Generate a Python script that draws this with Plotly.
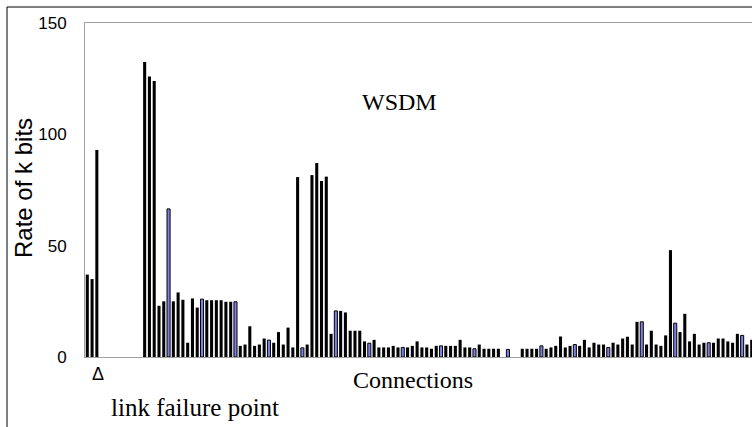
import plotly.graph_objects as go

# Per-connection transfer rate (k bits); None = no traffic on that connection
connections = list(range(1, 141))
rates = [
    37, 35, 93, None, None, None, None, None, None, None, None, None,
    132.5, 126, 124, 23, 25, 66.5, 25, 29, 25.7, 6.4, 26.3, 22.2,
    26, 25.5, 25.5, 25.5, 25.5, 24.8, 24.8, 24.8, 5.0, 5.6, 13.8, 5.0,
    5.6, 8.3, 7.6, 6.4, 11.2, 5.6, 13.2, 4.3, 80.8, 4.1, 5.6, 81.7,
    87.1, 79.0, 81.0, 10.4, 20.7, 20.7, 20.0, 11.8, 11.8, 11.8, 7.0, 6.2,
    7.7, 4.3, 4.3, 4.3, 5.0, 4.3, 4.3, 4.3, 5.0, 7.0, 4.3, 4.3,
    3.7, 5.0, 5.0, 5.0, 5.0, 5.0, 7.7, 4.3, 4.3, 3.7, 5.6, 3.7,
    3.7, 3.7, 3.7, None, 3.4, None, None, 3.7, 3.7, 3.7, 3.7, 5.0,
    3.7, 4.3, 5.0, 9.2, 4.3, 5.0, 5.6, 5.0, 7.7, 4.3, 6.4, 5.6,
    5.6, 4.3, 6.4, 5.6, 8.3, 9.1, 5.6, 15.8, 15.8, 5.6, 11.8, 5.6,
    5.0, 9.7, 48.0, 15.2, 11.2, 19.4, 7.0, 10.4, 5.6, 6.4, 6.4, 6.4,
    8.3, 8.3, 7.0, 6.4, 10.4, 9.7, 5.6, 7.7,
]
# Connections highlighted in blue
highlighted = [18, 25, 32, 39, 46, 53, 60, 67, 75, 82, 89, 96, 103, 110, 117, 124, 131, 138]

y_ticks = [0, 50, 100, 150]

BLACK = "#000000"
BLUE = "#8080e6"

colors = [BLUE if c in highlighted else BLACK for c in connections]
line_w = [1 if c in highlighted else 0 for c in connections]

fig = go.Figure(
    go.Bar(
        x=connections,
        y=rates,
        marker=dict(color=colors, line=dict(color=BLACK, width=line_w)),
    )
)

W, H = 752, 427
L, R, T, B = 85, 0, 23, 70
pw, ph = W - L - R, H - T - B


def px(x):
    return (x - L) / pw


def py(y):
    return (H - B - y) / ph


SANS = "Liberation Sans"
SERIF = "Liberation Serif"


def label(text, x, y, size, family, angle=0):
    return dict(text=text, xref="paper", yref="paper", x=px(x), y=py(y),
                xanchor="center", yanchor="middle", textangle=angle,
                showarrow=False, font=dict(size=size, family=family))


fig.update_layout(
    width=W,
    height=H,
    margin=dict(l=L, r=R, t=T, b=B),
    paper_bgcolor="white",
    plot_bgcolor="white",
    bargap=0.36,
    showlegend=False,
    font=dict(family=SANS, color="#000000"),
    xaxis=dict(
        range=[0.52, 140.06],
        showticklabels=False,
        ticks="",
        showgrid=False,
        zeroline=False,
        showline=True,
        mirror=True,
        linecolor="#a0a0a0",
        linewidth=1,
    ),
    yaxis=dict(
        range=[0, 150],
        tickvals=y_ticks,
        ticktext=[str(v) for v in y_ticks],
        tickfont=dict(size=17, family=SANS),
        ticks="",
        ticklabelstandoff=14,
        showgrid=False,
        zeroline=False,
        showline=True,
        linecolor="#a0a0a0",
        linewidth=1,
    ),
    shapes=[
        dict(
            type="rect", xref="paper", yref="paper",
            x0=px(7), x1=px(800), y0=py(470), y1=py(7),
            line=dict(color="#000000", width=1), fillcolor="rgba(0,0,0,0)",
            layer="below",
        )
    ],
    annotations=[
        label("Rate of k bits", 24, 188, 24, SANS, angle=-90),
        label("WSDM", 399, 102, 24, SERIF),
        label("Connections", 413, 380, 24, SERIF),
        label("Δ", 98, 374, 18, SANS),
        label("link failure point", 195, 407, 25, SERIF),
    ],
)

fig.write_html("out.html")
